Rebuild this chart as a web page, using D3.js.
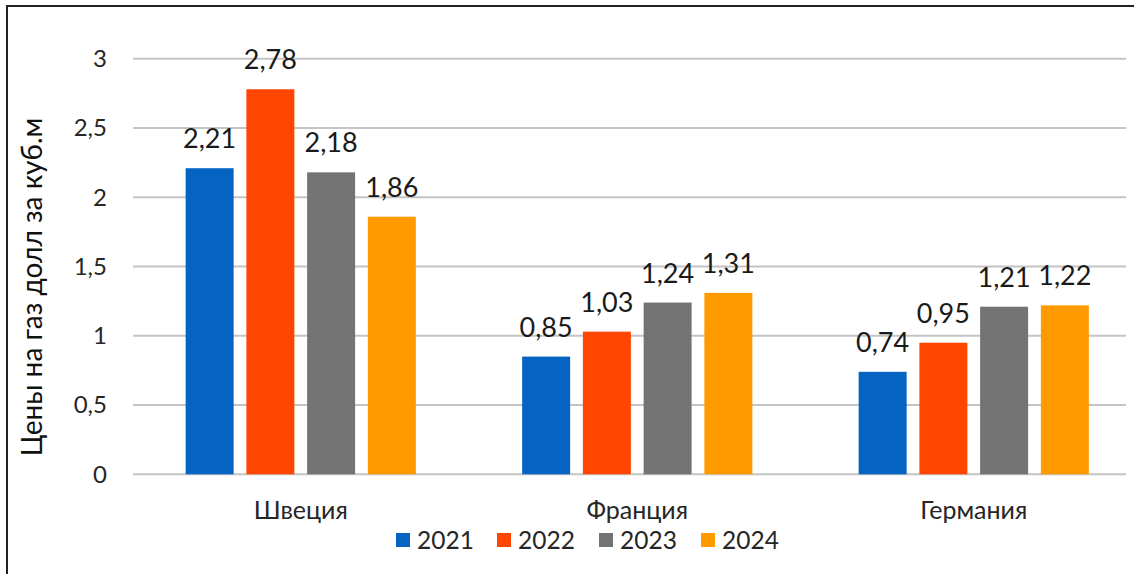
<!DOCTYPE html>
<html><head><meta charset="utf-8">
<script src="https://cdn.jsdelivr.net/npm/d3@7"></script>
<style>body{margin:0;background:#fff}svg{display:block}</style>
</head><body>
<script>
const categories = ["Швеция", "Франция", "Германия"];
const seriesNames = ["2021", "2022", "2023", "2024"];
const values2021 = [2.21, 0.85, 0.74];
const values2022 = [2.78, 1.03, 0.95];
const values2023 = [2.18, 1.24, 1.21];
const values2024 = [1.86, 1.31, 1.22];
const yTicks = [0, 0.5, 1, 1.5, 2, 2.5, 3];
const yTitle = "Цены на газ долл за куб.м";
const colors = ["#0563C1", "#FF4500", "#737373", "#FF9A00"];

const series = [values2021, values2022, values2023, values2024];
const W = 1134, H = 574;
const font = "Lato, 'Open Sans', sans-serif";
const fmt = v => String(v).replace(".", ",");

const svg = d3.select("body").append("svg").attr("width", W).attr("height", H);

// frame (top + left)
svg.append("path").attr("d", `M7,${H} L7,6 L${W},6`).attr("fill", "none")
  .attr("stroke", "#222").attr("stroke-width", 2);

const y = d3.scaleLinear().domain([0, 3]).range([474.3, 58.8]);
const x0 = d3.scaleBand().domain(categories).range([132.5, 1142]).paddingInner(0.278).paddingOuter(0.139);
const x1 = d3.scaleBand().domain(seriesNames).range([0, x0.bandwidth()]).paddingInner(0.21).paddingOuter(0.105);

// gridlines
svg.append("g").selectAll("line").data(yTicks).join("line")
  .attr("x1", 133).attr("x2", 1126)
  .attr("y1", d => y(d)).attr("y2", d => y(d))
  .attr("stroke", "#c4c4c4").attr("stroke-width", 2);

// y tick labels
svg.append("g").selectAll("text").data(yTicks).join("text")
  .attr("x", 107).attr("y", d => y(d)).attr("dy", "0.35em")
  .attr("text-anchor", "end").attr("font-family", font).attr("font-size", 24)
  .attr("fill", "#262626").text(fmt);

// y title
svg.append("text").attr("transform", "translate(42,287) rotate(-90)")
  .attr("text-anchor", "middle").attr("font-family", font).attr("font-size", 28)
  .attr("fill", "#111").text(yTitle);

// bars
const groups = svg.append("g").selectAll("g").data(categories).join("g")
  .attr("transform", d => `translate(${x0(d)},0)`);
groups.each(function(cat, ci) {
  const g = d3.select(this);
  seriesNames.forEach((s, si) => {
    const v = series[si][ci];
    g.append("rect").attr("x", x1(s)).attr("width", x1.bandwidth())
      .attr("y", y(v)).attr("height", y(0) - y(v)).attr("fill", colors[si]);
    g.append("text").attr("x", x1(s) + x1.bandwidth() / 2).attr("y", y(v) - 20)
      .attr("text-anchor", "middle").attr("font-family", font).attr("font-size", 27)
      .attr("fill", "#1a1a1a").text(fmt(v));
  });
});

// category labels
svg.append("g").selectAll("text").data(categories).join("text")
  .attr("x", d => x0(d) + x0.bandwidth() / 2).attr("y", 519)
  .attr("text-anchor", "middle").attr("font-family", font).attr("font-size", 25)
  .attr("fill", "#262626").text(d => d);

// legend
const legendX = [396, 497, 599, 701];
const leg = svg.append("g").selectAll("g").data(seriesNames).join("g")
  .attr("transform", (d, i) => `translate(${legendX[i]},533)`);
leg.append("rect").attr("width", 14).attr("height", 14).attr("fill", (d, i) => colors[i]);
leg.append("text").attr("x", 21).attr("y", 7).attr("dy", "0.36em")
  .attr("font-family", font).attr("font-size", 24.5).attr("fill", "#262626").text(d => d);
</script>
</body></html>
